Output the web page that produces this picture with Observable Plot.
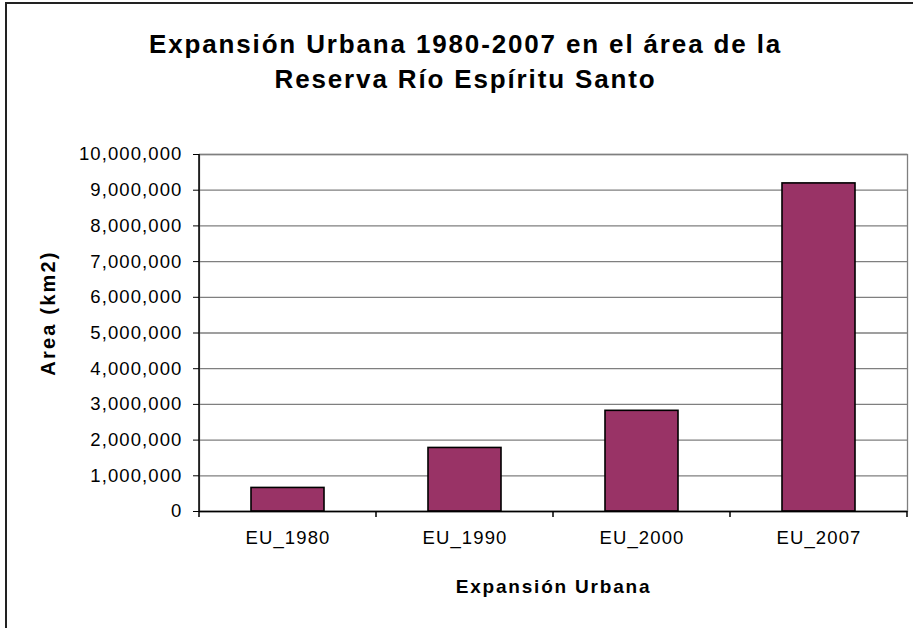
<!DOCTYPE html>
<html>
<head>
<meta charset="utf-8">
<script src="https://cdn.jsdelivr.net/npm/d3@7"></script>
<script src="https://cdn.jsdelivr.net/npm/@observablehq/plot@0.6"></script>
<style>
  html, body { margin: 0; padding: 0; background: white; }
  #wrap { position: relative; width: 913px; height: 628px; overflow: hidden; }
  #border { position: absolute; left: 5px; top: 2px; width: 1000px; height: 800px; border: 2px solid #222; pointer-events: none; }
</style>
</head>
<body>
<div id="wrap"><div id="chart"></div><div id="border"></div></div>
<script>
const categories = ["EU_1980", "EU_1990", "EU_2000", "EU_2007"];
const areas = [660000, 1780000, 2820000, 9190000];
const yTicks = [0, 1000000, 2000000, 3000000, 4000000, 5000000, 6000000, 7000000, 8000000, 9000000, 10000000];
const titleLine1 = "Expansión Urbana 1980-2007 en el área de la";
const titleLine2 = "Reserva Río Espíritu Santo";
const xTitle = "Expansión Urbana";
const yTitle = "Area (km2)";

const data = categories.map((c, i) => ({cat: c, area: areas[i]}));
const font = "'Liberation Sans', Arial, Helvetica, sans-serif";

const plot = Plot.plot({
  width: 913,
  height: 628,
  marginTop: 154,
  marginBottom: 117,
  marginLeft: 199,
  marginRight: 6,
  style: {fontFamily: font, fontSize: "18.5px", letterSpacing: "1.1px", background: "white", color: "black", overflow: "visible"},
  x: {domain: categories, paddingInner: 0.59, paddingOuter: 0.295, label: null},
  y: {domain: [0, 10000000], label: null},
  marks: [
    Plot.gridY(yTicks, {stroke: "#7f7f7f", strokeOpacity: 1, strokeWidth: 1.3}),
    Plot.frame({stroke: "#7f7f7f", strokeWidth: 1.3}),
    Plot.barY(data, {x: "cat", y: "area", fill: "#993366", stroke: "black", strokeWidth: 1.6}),
    Plot.ruleY([0], {stroke: "black", strokeWidth: 1.5}),
    Plot.axisY(yTicks, {tickFormat: d3.format(","), tickSize: 6, tickPadding: 11, stroke: "black", label: null}),
    Plot.axisX({tickSize: 0, tickPadding: 19, label: null}),
    Plot.text([titleLine1], {text: d => d, frameAnchor: "top", textAnchor: "middle", dx: -88, dy: -110, fontSize: 26, fontWeight: "bold", lineAnchor: "middle"}),
    Plot.text([titleLine2], {text: d => d, frameAnchor: "top", textAnchor: "middle", dx: -88, dy: -75, fontSize: 26, fontWeight: "bold", lineAnchor: "middle"}),
    Plot.text([xTitle], {text: d => d, frameAnchor: "bottom", textAnchor: "middle", dy: 75, fontSize: 19, fontWeight: "bold", lineAnchor: "middle"}),
    Plot.text([yTitle], {text: d => d, frameAnchor: "left", textAnchor: "middle", dx: -151, dy: -20, rotate: -90, fontSize: 20, fontWeight: "bold", lineAnchor: "middle"})
  ]
});

document.getElementById("chart").appendChild(plot);

const svg = d3.select(plot);
// per-label letter spacing (Excel-like wide spacing)
const spacing = new Map([[titleLine1, "1.85px"], [titleLine2, "1.85px"], [xTitle, "1.8px"], [yTitle, "2.2px"]]);
svg.selectAll("text").each(function () {
  const s = spacing.get(this.textContent);
  if (s) d3.select(this).style("letter-spacing", s);
});

// axis line on the left and category boundary ticks, from the plot's own scales
const xs = plot.scale("x");
const ys = plot.scale("y");
const y0 = ys.apply(0), y1 = ys.apply(10000000);
const gap = (xs.step - xs.bandwidth) / 2;
const bounds = categories.map(c => xs.apply(c) - gap);
bounds.push(xs.apply(categories[categories.length - 1]) + xs.bandwidth + gap);
const g = svg.append("g").attr("stroke", "black").attr("stroke-width", 1.5);
g.append("line").attr("x1", bounds[0]).attr("x2", bounds[0]).attr("y1", y0).attr("y2", y1);
bounds.forEach(b => g.append("line").attr("x1", b).attr("x2", b).attr("y1", y0).attr("y2", y0 + 6));
</script>
</body>
</html>
